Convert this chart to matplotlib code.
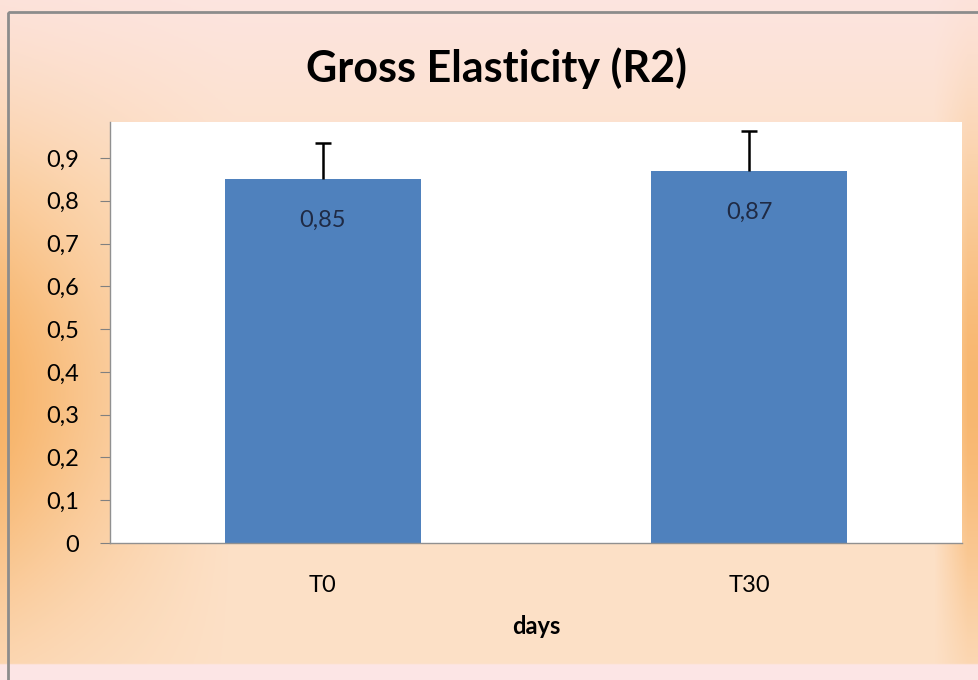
import numpy as np
import matplotlib
matplotlib.use("Agg")
import matplotlib.pyplot as plt
from matplotlib.patches import Rectangle

categories = ["T0", "T30"]
means = [0.85, 0.87]
errors = [0.085, 0.093]
value_labels = ["0,85", "0,87"]
yticks = [0, 0.1, 0.2, 0.3, 0.4, 0.5, 0.6, 0.7, 0.8, 0.9]
ytick_labels = ["0", "0,1", "0,2", "0,3", "0,4", "0,5", "0,6", "0,7", "0,8", "0,9"]

plt.rcParams['font.family'] = ['Lato', 'DejaVu Sans']

W, H = 979, 680
fig = plt.figure(figsize=(W / 100, H / 100), dpi=100)

# background gradient (orange at the sides, peach/pink in the middle)
bg = fig.add_axes([0, 0, 1, 1])
xx = np.linspace(0, 1, 400)[None, :]
yy = np.linspace(0, 1, 300)[:, None]
orange = np.array([0.97, 0.70, 0.40])
peach = np.array([0.99, 0.88, 0.78])
pink = np.array([0.99, 0.90, 0.90])
side = np.clip(1 - xx / 0.24, 0, 1) ** 1.2 + np.clip((xx - 0.955) / 0.035, 0, 1) * 0.9
vert = np.exp(-((yy - 0.58) / 0.33) ** 2)
w = np.clip(side * vert, 0, 1)[..., None]
top = np.clip((0.28 - yy) / 0.28, 0, 1)[..., None] * 0.8
base = peach * (1 - top) + pink * top
img = base * (1 - w) + orange * w
bottom_mask = (yy > 0.978)[..., None]
img = np.where(bottom_mask, pink, img)
bg.imshow(img, aspect='auto', extent=[0, 1, 1, 0])
bg.set_xlim(0, 1)
bg.set_ylim(1, 0)
bg.axis('off')
bg.add_patch(Rectangle((8 / W, 12 / H), 1.0, 1.0, fill=False, edgecolor='#8c8c8c', linewidth=2))

# plot area
ax = fig.add_axes([110 / W, 1 - 543 / H, 852 / W, 421 / H])
ax.set_facecolor('white')
x = np.arange(len(categories))
tops = np.array(means) + np.array(errors)
ax.bar(x, means, width=0.46, color='#4F81BD', zorder=2)
ax.vlines(x, means, tops, color='black', linewidth=1.8, zorder=3)
ax.plot(x, tops, linestyle='none', marker='_', markersize=11, markeredgewidth=1.8,
        color='black', zorder=3)
for xi, m, lab in zip(x, means, value_labels):
    ax.text(xi, m - 0.097, lab, ha='center', va='center', fontsize=17, color='#1f2a44', zorder=4)

ax.set_xlim(-0.5, 1.5)
ax.set_ylim(0, 0.984)
ax.set_yticks(yticks)
ax.set_yticklabels(ytick_labels, fontsize=17)
ax.set_xticks(x)
ax.set_xticklabels(categories, fontsize=17)
ax.tick_params(axis='x', length=0, pad=23)
ax.tick_params(axis='y', length=7, color='#808080', direction='out', pad=15)
for s in ['top', 'right']:
    ax.spines[s].set_visible(False)
for s in ['left', 'bottom']:
    ax.spines[s].set_color('#909090')
    ax.spines[s].set_linewidth(1)
ax.set_xlabel('days', fontsize=17, fontweight='bold', labelpad=14)

fig.text(497 / W, 1 - 68 / H, 'Gross Elasticity (R2)', ha='center', va='center',
         fontsize=31, fontweight='bold')

fig.savefig('out.png', dpi=100)
